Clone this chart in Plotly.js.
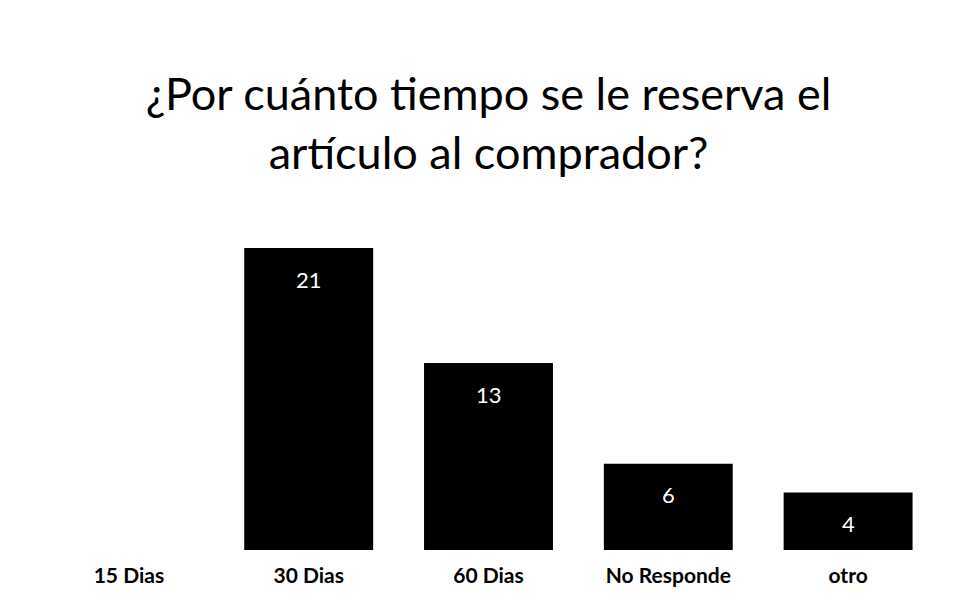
<!DOCTYPE html>
<html>
<head>
<meta charset="utf-8">
<script src="https://cdn.plot.ly/plotly-3.0.1.min.js"></script>
<style>html,body{margin:0;padding:0;background:#fff;}#chart{width:962px;height:612px;}</style>
</head>
<body>
<div id="chart"></div>
<script>
const categories = ["15 Dias", "30 Dias", "60 Dias", "No Responde", "otro"];
const values = [0, 21, 13, 6, 4];
const titleText = "¿Por cuánto tiempo se le reserva el<br>artículo al comprador?";

const trace = {
  type: "bar",
  x: categories,
  y: values,
  marker: {color: "#000000"},
  hoverinfo: "skip"
};

const annotations = categories.map((c, i) => values[i] > 0 ? ({
  x: c, y: values[i], xref: "x", yref: "y",
  text: String(values[i]), showarrow: false,
  yanchor: "middle", yshift: -31,
  font: {family: "Lato, 'Liberation Sans', sans-serif", size: 22, color: "#ffffff"}
}) : null).filter(a => a);

const layout = {
  width: 962, height: 612,
  paper_bgcolor: "#ffffff", plot_bgcolor: "#ffffff",
  margin: {l: 38.5, r: 23.5, t: 248, b: 62},
  bargap: 0.283,
  showlegend: false,
  title: {
    text: titleText,
    x: 0.5, xref: "paper", xanchor: "center",
    y: 1 - 110/612, yref: "container", yanchor: "top",
    font: {family: "Lato, 'Liberation Sans', sans-serif", size: 45, color: "#000000"}
  },
  xaxis: {
    type: "category",
    showgrid: false, zeroline: false, showline: false, ticks: "",
    tickfont: {family: "Lato, 'Liberation Sans', sans-serif", size: 21, color: "#000000", weight: "bold"},
    ticklabelstandoff: 11
  },
  yaxis: {
    range: [0, 21], visible: false, fixedrange: true
  },
  annotations: annotations
};

Plotly.newPlot("chart", [trace], layout, {displayModeBar: false, staticPlot: true});
</script>
</body>
</html>
